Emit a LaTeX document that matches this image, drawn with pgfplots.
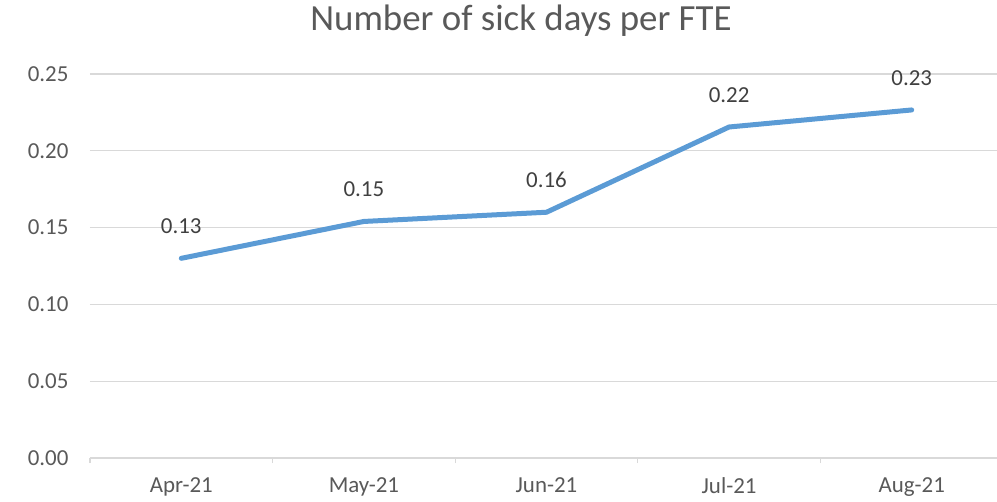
\documentclass[border=0pt]{standalone}
\usepackage{pgfplots}
\pgfplotsset{compat=1.18}
\usepackage{fontspec}
\setmainfont{Carlito}
\definecolor{linebl}{HTML}{5B9BD5}
\definecolor{gridc}{HTML}{D9D9D9}
\definecolor{txt}{HTML}{595959}
\definecolor{lbl}{HTML}{404040}

\begin{document}
\begin{tikzpicture}
\useasboundingbox (-90bp,-44bp) rectangle (907bp,458bp);
\begin{axis}[
    at={(0,0)}, anchor=south west,
    scale only axis,
    width=913bp, height=384bp,
    xmin=-0.5, xmax=4.5,
    ymin=0, ymax=0.25,
    ytick={0,0.05,...,0.25},
    xtick={0,1,2,3,4},
    xticklabels={Apr-21,May-21,Jun-21,Jul-21,Aug-21},
    minor xtick={-0.5,0.5,1.5,2.5,3.5,4.5},
    axis x line*=bottom,
    axis y line*=left,
    x axis line style={gridc, line width=1.2bp, -},
    y axis line style={draw=none},
    major tick length=0pt,
    minor tick length=5bp,
    minor tick style={gridc, line width=1.2bp},
    tick align=outside,
    ymajorgrids,
    grid style={gridc, line width=1.2bp},
    /pgf/number format/assume math mode=true,
    yticklabel style={font=\fontsize{23}{27}\selectfont, color=txt, /pgf/number format/fixed, /pgf/number format/precision=2, /pgf/number format/fixed zerofill, xshift=-18bp},
    xticklabel style={font=\fontsize{23}{27}\selectfont, color=txt, yshift=-16bp},
    scaled y ticks=false,
    clip=false,
]
\addplot[linebl, line width=5bp, line cap=round, line join=round,
    nodes near coords,
    every node near coord/.append style={font=\fontsize{23}{27}\selectfont, color=lbl, anchor=center, yshift=32bp,
        /pgf/number format/fixed, /pgf/number format/precision=2, /pgf/number format/fixed zerofill},
] coordinates {
    (0, 0.130)
    (1, 0.154)
    (2, 0.160)
    (3, 0.2155)
    (4, 0.2266)
};
\end{axis}
\node[font=\fontsize{37}{42}\selectfont, color=txt] at (431bp,437bp) {Number of sick days per FTE};
\end{tikzpicture}
\end{document}
